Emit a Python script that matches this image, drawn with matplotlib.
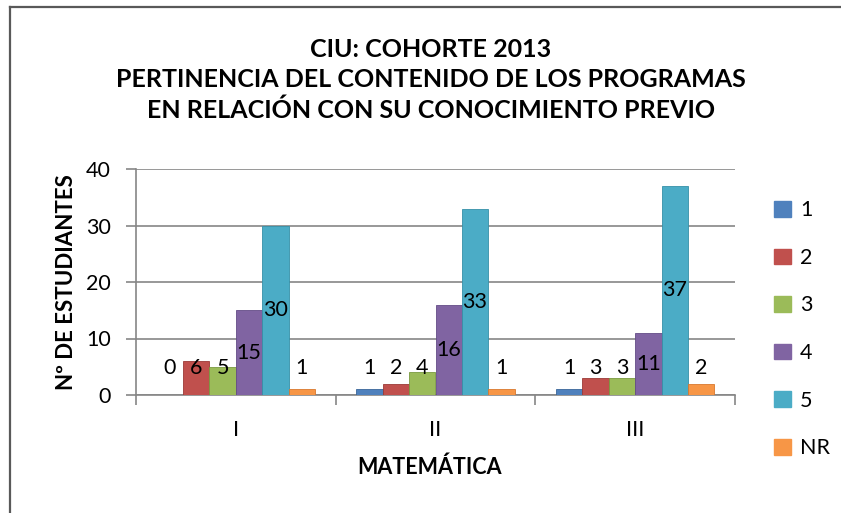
import matplotlib
matplotlib.use("Agg")
import matplotlib.pyplot as plt
from matplotlib.lines import Line2D
from matplotlib.patches import Patch
import numpy as np

categories = ["I", "II", "III"]
series_names = ["1", "2", "3", "4", "5", "NR"]
s1 = [0, 1, 1]
s2 = [6, 2, 3]
s3 = [5, 4, 3]
s4 = [15, 16, 11]
s5 = [30, 33, 37]
snr = [1, 1, 2]
series_values = [s1, s2, s3, s4, s5, snr]
colors = ["#4F81BD", "#C0504D", "#9BBB59", "#8064A2", "#4BACC6", "#F79646"]
edge_colors = ["#3A6699", "#9C3A37", "#7A9A40", "#634C86", "#3690A8", "#D9782E"]

plt.rcParams['font.family'] = ['Lato', 'DejaVu Sans']

W, H = 841, 513
fig = plt.figure(figsize=(W / 100, H / 100), dpi=100)
ax = fig.add_axes([136 / W, 1 - 395 / H, (735 - 136) / W, (395 - 169) / H])

bw = 0.132
x = np.arange(len(categories))
n = len(series_names)
for i, (name, vals) in enumerate(zip(series_names, series_values)):
    pos = x + (i - (n - 1) / 2) * bw
    ax.bar(pos, vals, width=bw, color=colors[i], edgecolor=edge_colors[i],
           linewidth=0.6, label=name, zorder=3)
    for p, v in zip(pos, vals):
        ax.text(p, max(v / 2, 4.75), str(v), ha="center", va="center",
                fontsize=15.5, color="black", zorder=4)

ax.set_ylim(0, 40)
ax.set_xlim(-0.5, 2.5)
ax.set_yticks([0, 10, 20, 30, 40])
ax.set_xticks(x)
ax.set_xticklabels(categories)
ax.set_xticks([-0.5, 0.5, 1.5, 2.5], minor=True)
ax.tick_params(axis="x", which="major", length=0, labelsize=15.5, pad=18)
ax.tick_params(axis="x", which="minor", length=7, color="#868686", width=1.2)
ax.tick_params(axis="y", length=7, color="#868686", width=1.2, labelsize=15.5, pad=11)
ax.grid(axis="y", color="#868686", linewidth=1.2, zorder=0)
for s in ["top", "right"]:
    ax.spines[s].set_visible(False)
for s in ["left", "bottom"]:
    ax.spines[s].set_color("#868686")
    ax.spines[s].set_linewidth(1.2)

ax.set_ylabel("Nº DE ESTUDIANTES", fontsize=16, fontweight="bold")
ax.yaxis.set_label_coords((77 - 136) / (735 - 136), 0.5)
ax.set_xlabel("MATEMÁTICA", fontsize=15.5, fontweight="bold")
ax.xaxis.set_label_coords(0.49, -(457 - 395) / (395 - 169))

fig.text(431 / W, 1 - 80 / H,
         "CIU: COHORTE 2013\nPERTINENCIA DEL CONTENIDO DE LOS PROGRAMAS\nEN RELACIÓN CON SU CONOCIMIENTO PREVIO",
         ha="center", va="center", fontsize=18, fontweight="bold", linespacing=1.4)

handles = [Patch(facecolor=c, edgecolor=c) for c in colors]
fig.legend(handles, series_names, loc="upper left", bbox_to_anchor=(755 / W, 1 - 181 / H),
           frameon=False, fontsize=15.5, handlelength=0.75, handleheight=0.75,
           labelspacing=1.28, handletextpad=0.45)

# chart border
fig.add_artist(Line2D([10 / W, 10 / W], [0, 1 - 7 / H], color="#595959", linewidth=1.6))
fig.add_artist(Line2D([10 / W, 1], [1 - 7 / H, 1 - 7 / H], color="#595959", linewidth=1.6))

fig.savefig("out.png", dpi=100)
